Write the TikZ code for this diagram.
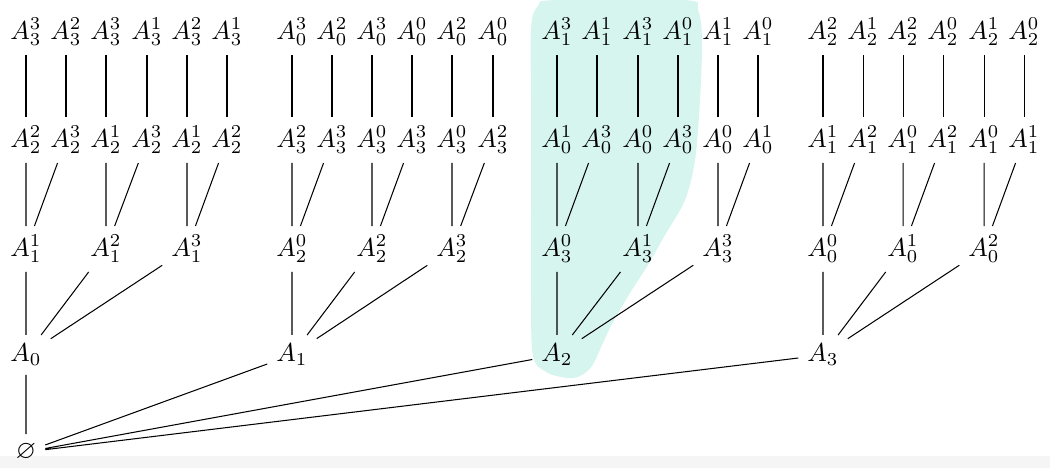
\documentclass[tikz,border=0pt]{standalone}
\usepackage{amsmath,amssymb}

\definecolor{hilite}{RGB}{214,245,239}

\begin{document}
\begin{tikzpicture}[x=0.385pt, y=-0.385pt]

\useasboundingbox (0,0) rectangle (1050,468);
\fill[black!4] (0,456) rectangle (1050,468);

% Highlighted branch
\fill[hilite] plot[smooth cycle, tension=0.55] coordinates {
  (567,378) (546,372) (533,356) (531,300) (531,200) (531,100) (531,28)
  (538,6) (556,0) (684,0) (698,10) (702,40) (700,100) (695,160) (685,200)
  (665,235) (648,265) (630,293) (613,322) (602,345) (592,366) (580,376)};

% Root and first level
\node (E) at (26,452) {$\varnothing$};
\node (A0) at (26,355) {$A_0$};
\node (A1) at (292,355) {$A_1$};
\node (A2) at (557,355) {$A_2$};
\node (A3) at (823,355) {$A_3$};

% Branch A_0
\node (A0-1) at (26,249) {$A_1^1$};
\node (A0-2) at (106,249) {$A_1^2$};
\node (A0-3) at (187,249) {$A_1^3$};
\node (A0-1-2) at (26,140) {$A_2^2$};
\node (A0-1-3) at (66,140) {$A_2^3$};
\node (A0-2-1) at (106,140) {$A_2^1$};
\node (A0-2-3) at (147,140) {$A_2^3$};
\node (A0-3-1) at (187,140) {$A_2^1$};
\node (A0-3-2) at (227,140) {$A_2^2$};
\node (A0-1-2-3) at (26,32) {$A_3^3$};
\node (A0-1-3-2) at (66,32) {$A_3^2$};
\node (A0-2-1-3) at (106,32) {$A_3^3$};
\node (A0-2-3-1) at (147,32) {$A_3^1$};
\node (A0-3-1-2) at (187,32) {$A_3^2$};
\node (A0-3-2-1) at (227,32) {$A_3^1$};

% Branch A_1
\node (A1-0) at (292,249) {$A_2^0$};
\node (A1-2) at (372,249) {$A_2^2$};
\node (A1-3) at (452,249) {$A_2^3$};
\node (A1-0-2) at (292,140) {$A_3^2$};
\node (A1-0-3) at (332,140) {$A_3^3$};
\node (A1-2-0) at (372,140) {$A_3^0$};
\node (A1-2-3) at (412,140) {$A_3^3$};
\node (A1-3-0) at (452,140) {$A_3^0$};
\node (A1-3-2) at (493,140) {$A_3^2$};
\node (A1-0-2-3) at (292,32) {$A_0^3$};
\node (A1-0-3-2) at (332,32) {$A_0^2$};
\node (A1-2-0-3) at (372,32) {$A_0^3$};
\node (A1-2-3-0) at (412,32) {$A_0^0$};
\node (A1-3-0-2) at (452,32) {$A_0^2$};
\node (A1-3-2-0) at (493,32) {$A_0^0$};

% Branch A_2
\node (A2-0) at (557,249) {$A_3^0$};
\node (A2-1) at (638,249) {$A_3^1$};
\node (A2-3) at (718,249) {$A_3^3$};
\node (A2-0-1) at (557,140) {$A_0^1$};
\node (A2-0-3) at (597,140) {$A_0^3$};
\node (A2-1-0) at (638,140) {$A_0^0$};
\node (A2-1-3) at (678,140) {$A_0^3$};
\node (A2-3-0) at (718,140) {$A_0^0$};
\node (A2-3-1) at (758,140) {$A_0^1$};
\node (A2-0-1-3) at (557,32) {$A_1^3$};
\node (A2-0-3-1) at (597,32) {$A_1^1$};
\node (A2-1-0-3) at (638,32) {$A_1^3$};
\node (A2-1-3-0) at (678,32) {$A_1^0$};
\node (A2-3-0-1) at (718,32) {$A_1^1$};
\node (A2-3-1-0) at (758,32) {$A_1^0$};

% Branch A_3
\node (A3-0) at (823,249) {$A_0^0$};
\node (A3-1) at (903,249) {$A_0^1$};
\node (A3-2) at (984,249) {$A_0^2$};
\node (A3-0-1) at (823,140) {$A_1^1$};
\node (A3-0-2) at (863,140) {$A_1^2$};
\node (A3-1-0) at (903,140) {$A_1^0$};
\node (A3-1-2) at (943,140) {$A_1^2$};
\node (A3-2-0) at (984,140) {$A_1^0$};
\node (A3-2-1) at (1024,140) {$A_1^1$};
\node (A3-0-1-2) at (823,32) {$A_2^2$};
\node (A3-0-2-1) at (863,32) {$A_2^1$};
\node (A3-1-0-2) at (903,32) {$A_2^2$};
\node (A3-1-2-0) at (943,32) {$A_2^0$};
\node (A3-2-0-1) at (984,32) {$A_2^1$};
\node (A3-2-1-0) at (1024,32) {$A_2^0$};

% Edges
\draw (E) -- (A0) (E) -- (A1) (E) -- (A2) (E) -- (A3);

\draw (A0) -- (A0-1) (A0) -- (A0-2) (A0) -- (A0-3);
\draw (A0-1) -- (A0-1-2) (A0-1) -- (A0-1-3) (A0-2) -- (A0-2-1)
      (A0-2) -- (A0-2-3) (A0-3) -- (A0-3-1) (A0-3) -- (A0-3-2);
\draw (A0-1-2) -- (A0-1-2-3) (A0-1-3) -- (A0-1-3-2) (A0-2-1) -- (A0-2-1-3)
      (A0-2-3) -- (A0-2-3-1) (A0-3-1) -- (A0-3-1-2) (A0-3-2) -- (A0-3-2-1);

\draw (A1) -- (A1-0) (A1) -- (A1-2) (A1) -- (A1-3);
\draw (A1-0) -- (A1-0-2) (A1-0) -- (A1-0-3) (A1-2) -- (A1-2-0)
      (A1-2) -- (A1-2-3) (A1-3) -- (A1-3-0) (A1-3) -- (A1-3-2);
\draw (A1-0-2) -- (A1-0-2-3) (A1-0-3) -- (A1-0-3-2) (A1-2-0) -- (A1-2-0-3)
      (A1-2-3) -- (A1-2-3-0) (A1-3-0) -- (A1-3-0-2) (A1-3-2) -- (A1-3-2-0);

\draw (A2) -- (A2-0) (A2) -- (A2-1) (A2) -- (A2-3);
\draw (A2-0) -- (A2-0-1) (A2-0) -- (A2-0-3) (A2-1) -- (A2-1-0)
      (A2-1) -- (A2-1-3) (A2-3) -- (A2-3-0) (A2-3) -- (A2-3-1);
\draw (A2-0-1) -- (A2-0-1-3) (A2-0-3) -- (A2-0-3-1) (A2-1-0) -- (A2-1-0-3)
      (A2-1-3) -- (A2-1-3-0) (A2-3-0) -- (A2-3-0-1) (A2-3-1) -- (A2-3-1-0);

\draw (A3) -- (A3-0) (A3) -- (A3-1) (A3) -- (A3-2);
\draw (A3-0) -- (A3-0-1) (A3-0) -- (A3-0-2) (A3-1) -- (A3-1-0)
      (A3-1) -- (A3-1-2) (A3-2) -- (A3-2-0) (A3-2) -- (A3-2-1);
\draw (A3-0-1) -- (A3-0-1-2) (A3-0-2) -- (A3-0-2-1) (A3-1-0) -- (A3-1-0-2)
      (A3-1-2) -- (A3-1-2-0) (A3-2-0) -- (A3-2-0-1) (A3-2-1) -- (A3-2-1-0);

\end{tikzpicture}
\end{document}
